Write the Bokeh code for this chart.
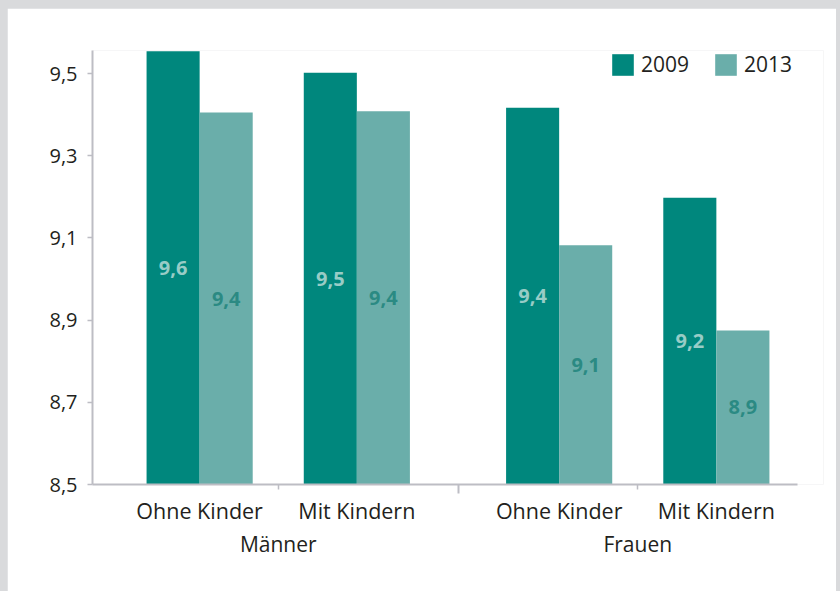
from bokeh.plotting import figure
from bokeh.layouts import column
from bokeh.models import (FactorRange, Range1d, ColumnDataSource, FixedTicker, LinearAxis,
                          CategoricalAxis, Legend, LegendItem)
from bokeh.transform import dodge
from bokeh.core.properties import value
from bokeh.embed import file_html
from bokeh.resources import INLINE

# ---------------- data ----------------
groups = ["Männer", "Männer", "Frauen", "Frauen"]
subgroups = ["Ohne Kinder", "Mit Kindern", "Ohne Kinder", "Mit Kindern"]
series_names = ["2009", "2013"]
values_2009 = [9.554, 9.502, 9.417, 9.198]
values_2013 = [9.405, 9.408, 9.082, 8.875]
labels_2009 = ["9,6", "9,5", "9,4", "9,2"]
labels_2013 = ["9,4", "9,4", "9,1", "8,9"]
y_ticks = [8.5, 8.7, 8.9, 9.1, 9.3, 9.5]
y_tick_labels = ["8,5", "8,7", "8,9", "9,1", "9,3", "9,5"]
y_min = 8.5
y_max = 9.556

# ---------------- style ----------------
C2009 = "#00877d"
C2013 = "#6aaeaa"
L2009 = "#98ccc6"
L2013 = "#2b8a83"
AXIS_C = "#bdbdc4"
TEXT_C = "#231f20"
FONT = "Open Sans"
GP = 0.287
BAR_W = 0.3376

factors = list(zip(groups, subgroups))
x_range = FactorRange(*factors, group_padding=GP, factor_padding=0.0,
                      range_padding=0.0847, range_padding_units="percent")

source = ColumnDataSource(dict(
    x=factors,
    v2009=values_2009,
    v2013=values_2013,
    m2009=[(y_min + v) / 2 for v in values_2009],
    m2013=[(y_min + v) / 2 for v in values_2013],
    l2009=labels_2009,
    l2013=labels_2013,
))

p = figure(x_range=x_range, y_range=Range1d(y_min, y_max),
           width=829, height=583, output_backend="svg", toolbar_location=None,
           x_axis_location=None, y_axis_location="left",
           min_border_left=85, min_border_right=13, min_border_top=42, min_border_bottom=107)
p.outline_line_color = None
p.grid.visible = False
p.background_fill_color = "white"
p.border_fill_color = "white"

r1 = p.vbar(x=dodge("x", -BAR_W / 2, range=p.x_range), top="v2009", bottom=y_min,
            width=BAR_W, fill_color=C2009, line_color=None, source=source)
r2 = p.vbar(x=dodge("x", BAR_W / 2, range=p.x_range), top="v2013", bottom=y_min,
            width=BAR_W, fill_color=C2013, line_color=None, source=source)

p.text(x=dodge("x", -BAR_W / 2, range=p.x_range), y="m2009", text="l2009", source=source,
       text_align="center", text_baseline="middle", text_font=value(FONT),
       text_font_style="bold", text_font_size="20px", text_color=L2009)
p.text(x=dodge("x", BAR_W / 2, range=p.x_range), y="m2013", text="l2013", source=source,
       text_align="center", text_baseline="middle", text_font=value(FONT),
       text_font_style="bold", text_font_size="20px", text_color=L2013)

# y axis
yax = p.yaxis[0]
yax.ticker = FixedTicker(ticks=y_ticks)
yax.major_label_overrides = dict(zip(y_ticks, y_tick_labels))
yax.axis_line_color = AXIS_C
yax.axis_line_width = 2
yax.major_tick_line_color = AXIS_C
yax.major_tick_line_width = 1.5
yax.major_tick_out = 5
yax.major_tick_in = 0
yax.minor_tick_line_color = None
yax.major_label_standoff = 10
yax.major_label_text_font = FONT
yax.major_label_text_font_size = "20px"
yax.major_label_text_color = TEXT_C

# boundaries between categories (synthetic coordinates)
centres = []
pos = 0.0
prev = None
for g in groups:
    if prev is not None and g != prev:
        pos += GP
    centres.append(pos + 0.5)
    pos += 1.0
    prev = g
bounds = [(a + b) / 2 for a, b in zip(centres[:-1], centres[1:])]
group_bounds = [b for b, g0, g1 in zip(bounds, groups[:-1], groups[1:]) if g0 != g1]
sub_bounds = [b for b, g0, g1 in zip(bounds, groups[:-1], groups[1:]) if g0 == g1]

tick_axis = LinearAxis(ticker=FixedTicker(ticks=group_bounds, minor_ticks=sub_bounds),
                       bounds=(centres[0] - 0.70, centres[-1] + 0.516),
                       axis_line_color=AXIS_C, axis_line_width=2,
                       major_tick_out=9, major_tick_in=0, major_tick_line_color=AXIS_C,
                       major_tick_line_width=2,
                       minor_tick_out=5, minor_tick_in=0, minor_tick_line_color=AXIS_C,
                       minor_tick_line_width=1.5,
                       major_label_overrides={b: "" for b in group_bounds},
                       major_label_text_font_size="1px", major_label_standoff=0)
p.add_layout(tick_axis, "below")

cat_axis = CategoricalAxis(axis_line_color=None, major_tick_line_color=None,
                           major_tick_out=0, major_tick_in=0,
                           minor_tick_line_color=None, separator_line_color=None,
                           major_label_standoff=2,
                           major_label_text_font=FONT, major_label_text_font_size="21.5px",
                           major_label_text_color=TEXT_C,
                           group_text_font=FONT, group_text_font_size="21px",
                           group_text_font_style="normal", group_text_color=TEXT_C)
p.add_layout(cat_axis, "below")

legend = Legend(items=[LegendItem(label=series_names[0], renderers=[r1]),
                       LegendItem(label=series_names[1], renderers=[r2])],
                orientation="horizontal", location=(517, 406),
                glyph_width=27, glyph_height=27, label_standoff=5, spacing=23,
                padding=0, margin=0, border_line_color=None, background_fill_alpha=0,
                label_text_font=FONT, label_text_font_size="21px",
                label_text_color=TEXT_C, label_height=27)
p.add_layout(legend)

page = column(p, styles={"background-color": "#d9dadc",
                         "padding": "8px 4px 0px 7px"})

open("out.html", "w").write(file_html(page, INLINE))
